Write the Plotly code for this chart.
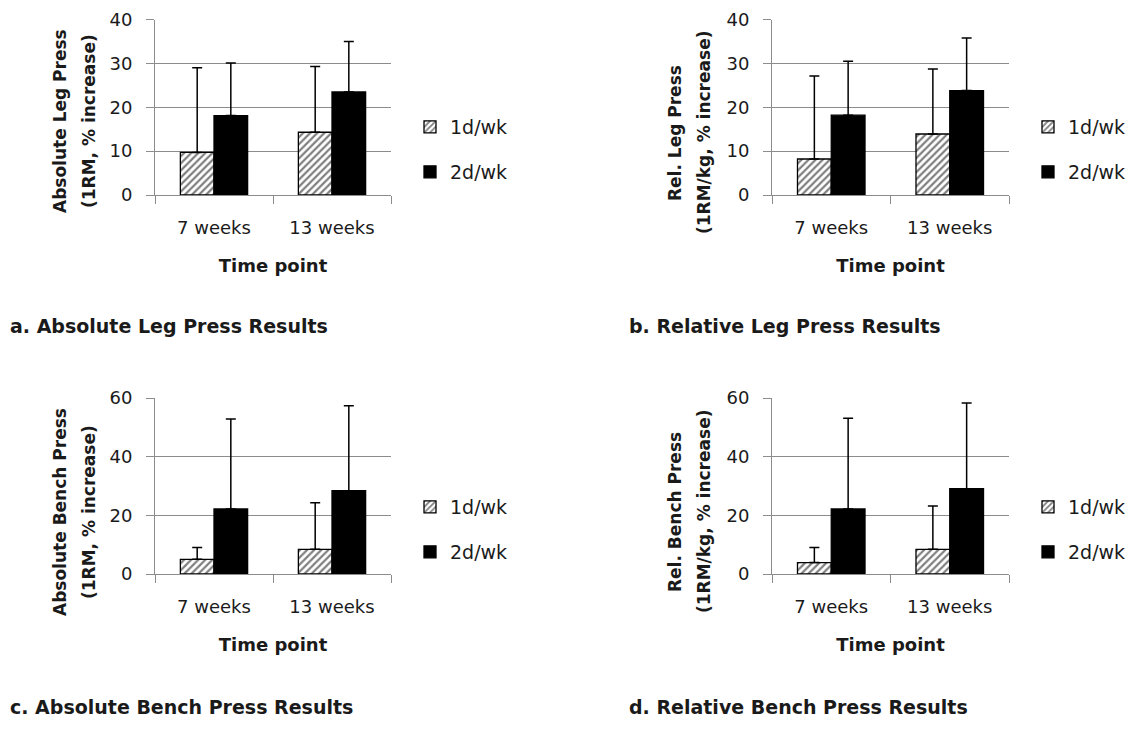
import plotly.graph_objects as go

W, H = 1141, 747

categories = ["7 weeks", "13 weeks"]
series_names = ["1d/wk", "2d/wk"]

# Panel a: Absolute Leg Press (% increase), mean and upper SD
a_mean_1d = [9.7, 14.3]
a_sd_1d = [19.3, 15.0]
a_mean_2d = [18.1, 23.5]
a_sd_2d = [12.0, 11.5]

# Panel b: Relative Leg Press
b_mean_1d = [8.2, 13.9]
b_sd_1d = [18.9, 14.8]
b_mean_2d = [18.2, 23.8]
b_sd_2d = [12.3, 12.0]

# Panel c: Absolute Bench Press
c_mean_1d = [5.0, 8.4]
c_sd_1d = [4.0, 15.9]
c_mean_2d = [22.2, 28.4]
c_sd_2d = [30.6, 29.0]

# Panel d: Relative Bench Press
d_mean_1d = [3.9, 8.4]
d_sd_1d = [5.1, 14.8]
d_mean_2d = [22.2, 29.1]
d_sd_2d = [30.9, 29.2]

y_titles = [
    ("Absolute Leg Press", "(1RM, % increase)"),
    ("Rel. Leg Press", "(1RM/kg, % increase)"),
    ("Absolute Bench Press", "(1RM, % increase)"),
    ("Rel. Bench Press", "(1RM/kg, % increase)"),
]
captions = [
    "a. Absolute Leg Press Results",
    "b. Relative Leg Press Results",
    "c. Absolute Bench Press Results",
    "d. Relative Bench Press Results",
]
x_title = "Time point"
y_ranges = [40, 40, 60, 60]
y_dticks = [10, 10, 20, 20]

FONT = "DejaVu Sans"
GRID = "#8c8c8c"
TXT = "#1a1a1a"
OFF = 8  # page body margin compensation

def px_x(p):
    return (p - OFF) / W

def px_y(p):
    return 1 - (p - OFF) / H

# panel geometry (pixels)
x_doms = [(155, 391), (772, 1009)]
y_doms = [(19.5, 195), (398, 574)]
panels = [(0, 0), (1, 0), (0, 1), (1, 1)]  # (col,row)

data = [
    (a_mean_1d, a_sd_1d, a_mean_2d, a_sd_2d),
    (b_mean_1d, b_sd_1d, b_mean_2d, b_sd_2d),
    (c_mean_1d, c_sd_1d, c_mean_2d, c_sd_2d),
    (d_mean_1d, d_sd_1d, d_mean_2d, d_sd_2d),
]

fig = go.Figure()
layout = dict(
    width=W, height=H,
    margin=dict(l=0, r=0, t=0, b=0, autoexpand=False),
    paper_bgcolor="white", plot_bgcolor="white",
    barmode="group", bargap=0.43, bargroupgap=0,
    font=dict(family=FONT, color=TXT, size=18),
    annotations=[],
)

legend_idx = 0
for i, ((col, row), (m1, s1, m2, s2)) in enumerate(zip(panels, data)):
    ax = "" if i == 0 else str(i + 1)
    xd = x_doms[col]
    yd = y_doms[row]
    for j, (m, s) in enumerate([(m1, s1), (m2, s2)]):
        legend_idx += 1
        lg = "legend" if legend_idx == 1 else f"legend{legend_idx}"
        if j == 0:
            marker = dict(color="white", line=dict(color="black", width=1.3),
                          pattern=dict(shape="/", fgcolor="black", bgcolor="white",
                                       size=5, solidity=0.45))
        else:
            marker = dict(color="black", line=dict(color="black", width=1.3))
        fig.add_trace(go.Bar(
            x=categories, y=m, name=series_names[j],
            xaxis="x" + ax, yaxis="y" + ax,
            marker=marker,
            error_y=dict(type="data", array=s, arrayminus=[0] * len(s),
                         symmetric=False, color="black", thickness=1.5, width=5),
            legend=lg, showlegend=True,
        ))
        item_y = (18 if row == 0 else 398) + 109 + 45 * j
        layout[lg] = dict(
            x=px_x(xd[1] + 19), y=px_y(item_y), xanchor="left", yanchor="middle",
            bgcolor="rgba(0,0,0,0)", font=dict(family=FONT, size=19, color=TXT),
            itemclick=False, itemdoubleclick=False,
        )

    layout["xaxis" + ax] = dict(
        domain=[px_x(xd[0]), px_x(xd[1])], anchor="y" + ax,
        type="category", range=[-0.5, 1.5], tickson="boundaries",
        ticks="outside", ticklen=8, tickcolor=GRID, tickwidth=1,
        showline=True, linecolor=GRID, linewidth=1, showgrid=False,
        ticklabelstandoff=16,
        tickfont=dict(family=FONT, size=18, color=TXT),
        title=dict(text=x_title, standoff=22,
                   font=dict(family=FONT, size=18, color=TXT, weight="bold")),
        fixedrange=True,
    )
    layout["yaxis" + ax] = dict(
        domain=[px_y(yd[1]), px_y(yd[0])], anchor="x" + ax,
        range=[0, y_ranges[i]], dtick=y_dticks[i], tick0=0,
        ticks="outside", ticklen=8, tickcolor=GRID, tickwidth=1,
        showline=True, linecolor=GRID, linewidth=1,
        showgrid=True, gridcolor=GRID, gridwidth=1, zeroline=False,
        ticklabelstandoff=10,
        tickfont=dict(family=FONT, size=18, color=TXT),
        fixedrange=True,
    )

    # y-axis title, two lines
    base_x = 60 if col == 0 else 675
    cy = 121 if row == 0 else 512
    if col == 1 and row == 0:
        cy = 133
    for k, line in enumerate(y_titles[i]):
        layout["annotations"].append(dict(
            text=f"<b>{line}</b>", textangle=-90,
            x=px_x(base_x + 29 * k), y=px_y(cy), xref="paper", yref="paper",
            xanchor="center", yanchor="middle", showarrow=False,
            font=dict(family=FONT, size=17, color=TXT),
        ))

    # caption
    cap_x = 8 if col == 0 else 627
    cap_y = 326 if row == 0 else 707
    layout["annotations"].append(dict(
        text=f"<b>{captions[i]}</b>", x=px_x(cap_x), y=px_y(cap_y),
        xref="paper", yref="paper", xanchor="left", yanchor="middle",
        showarrow=False, font=dict(family=FONT, size=19, color=TXT),
    ))

fig.update_layout(**layout)
fig.write_html("out.html")
